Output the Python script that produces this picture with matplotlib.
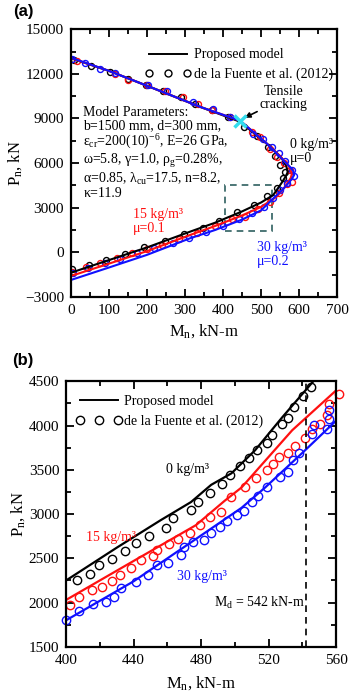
import matplotlib
matplotlib.use('Agg')
import matplotlib.pyplot as plt
from matplotlib.patches import Rectangle

plt.rcParams['font.family'] = ['Liberation Serif', 'DejaVu Serif']
plt.rcParams['mathtext.fontset'] = 'custom'
plt.rcParams['mathtext.rm'] = 'Liberation Serif'
plt.rcParams['mathtext.it'] = 'Liberation Serif:italic'
plt.rcParams['mathtext.bf'] = 'Liberation Serif:bold'

RED = '#ff1010'
BLUE = '#1010ff'

# ---- panel (a): full interaction diagram ----
a_black_line_m = [0, 100, 200, 313, 379, 450, 500, 532, 555, 566, 570, 566, 552, 515, 445, 340, 208, 100, 0]
a_black_line_p = [-1370, -520, 330, 1386, 1990, 2750, 3350, 3851, 4700, 5150, 5400, 5850, 6420, 7300, 8780, 9780, 11120, 12200, 13050]
a_red_line_m = [0, 100, 200, 313, 379, 450, 500, 541, 566, 578, 581, 576, 552, 515, 445, 340, 208, 100, 0]
a_red_line_p = [-1590, -760, 80, 1164, 1769, 2480, 3050, 3736, 4500, 5000, 5250, 5700, 6420, 7320, 8850, 9780, 11120, 12200, 13060]
a_blue_line_m = [0, 100, 200, 313, 379, 450, 500, 528, 560, 580, 587, 585, 576, 550, 515, 445, 340, 208, 100, 0]
a_blue_line_p = [-1858, -1020, -170, 942, 1500, 2200, 2820, 3515, 4300, 4900, 5194, 5450, 5750, 6420, 7320, 8850, 9780, 11120, 12200, 13080]

a_black_pts_m = [2, 46, 92, 142, 192, 247, 298, 348, 390, 436, 482, 515, 541, 559, 562,
                 550, 537, 517, 489, 454, 414, 372, 326, 290, 243, 197, 151, 103, 52, 8]
a_black_pts_p = [-1119, -851, -515, -132, 338, 781, 1211, 1654, 2124, 2689, 3159, 3784, 4301, 4972, 5400,
                 5870, 6470, 7095, 7810, 8400, 9110, 9560, 9963, 10453, 10856, 11285, 11688, 12133, 12535, 12965]
a_red_pts_m = [2, 40, 76, 120, 161, 199, 239, 284, 331, 379, 423, 458, 493, 524, 548, 568, 581,
               576, 560, 543, 524, 497, 475, 417, 370, 335, 294, 247, 199, 151, 116, 15]
a_red_pts_p = [-1300, -965, -696, -361, -65, 224, 493, 875, 1319, 1789, 2219, 2398, 2890, 3400, 3965, 4589, 4744,
               5530, 5980, 6423, 6920, 7726, 8102, 9110, 9560, 9963, 10412, 10856, 11239, 11621, 11977, 12871]
a_blue_pts_m = [6, 44, 90, 129, 173, 217, 267, 310, 354, 401, 443, 476, 508, 532, 550, 568, 587,
                581, 563, 548, 528, 504, 480, 418, 374, 322, 252, 202, 116, 76, 37, 2]
a_blue_pts_p = [-1368, -1072, -737, -448, -65, 271, 607, 983, 1346, 1769, 2219, 2662, 3024, 3629, 4187, 4636, 5128,
                5530, 6135, 6651, 7095, 7588, 7990, 9110, 9627, 10117, 10856, 11285, 12065, 12360, 12737, 13032]

crack_m, crack_p = 445, 8850

# ---- panel (b): zoom on the tension-controlled region ----
b_black_line_m = [400, 430, 456, 474, 486, 498, 512, 528, 547, 552]
b_black_line_p = [2250, 2620, 2930, 3135, 3330, 3460, 3720, 4090, 4510, 4620]
b_red_line_m = [400, 440, 477, 494, 504, 534, 562]
b_red_line_p = [2030, 2470, 2875, 3150, 3300, 3946, 4430]
b_blue_line_m = [400, 440, 474, 504, 518, 540, 562]
b_blue_line_p = [1800, 2240, 2680, 3070, 3300, 3690, 4090]

b_black_pts_m = [406.4, 413.9, 419.7, 427.3, 434.6, 441.6, 449.1, 459.1, 463.4, 474.0, 478, 485.4, 492.5,
                 496.9, 503, 508.5, 513.4, 518.8, 522.2, 527.8, 531.8, 535.3, 540.7, 545.3]
b_black_pts_p = [2255, 2323, 2424, 2495, 2586, 2676, 2751, 2838, 2951, 3045, 3138, 3240, 3338,
                 3439, 3541, 3631, 3729, 3803, 3890, 4014, 4090, 4210, 4330, 4435]
b_red_pts_m = [402.4, 407.8, 415.3, 421.3, 426.9, 432.2, 438.2, 444.2, 451.2, 454.1, 461.1, 466.1, 473.4,
               479.4, 485, 491.9, 497.9, 505.9, 512.8, 518.8, 522.8, 526.2, 531.8, 535.7, 541.7, 545.7,
               550.6, 554.6, 555.6, 561.6]
b_red_pts_p = [1973, 2060, 2142, 2173, 2244, 2312, 2394, 2481, 2526, 2594, 2661, 2714, 2782,
               2875, 2962, 3025, 3195, 3307, 3402, 3495, 3560, 3639, 3684, 3766, 3860, 3965,
               4022, 4115, 4247, 4360]
b_blue_pts_m = [400, 407.8, 415.7, 423.9, 428.2, 432.6, 441.2, 448.8, 454.1, 460.1, 468.1, 470, 475,
                482, 485.6, 491, 495.5, 501.3, 505.5, 509.9, 513.9, 518.8, 526.7, 531.8, 534.7, 538.1,
                545.7, 546.7, 554.6, 555.6, 555.6]
b_blue_pts_p = [1804, 1909, 1985, 2011, 2067, 2169, 2236, 2311, 2424, 2450, 2537, 2624, 2687,
                2706, 2789, 2856, 2924, 2988, 3033, 3138, 3202, 3307, 3420, 3476, 3608, 3684,
                3909, 4003, 3965, 4078, 4172]

m_d = 542

fig = plt.figure(figsize=(3.5, 6.97), dpi=100)
ax1 = fig.add_axes([0.203, 0.574, 0.760, 0.384])
ax2 = fig.add_axes([0.189, 0.072, 0.771, 0.381])


def style_axes(ax):
    for s in ax.spines.values():
        s.set_linewidth(1.6)
    ax.tick_params(which='both', direction='in', top=True, right=True, labelsize=11, width=1.3)
    ax.tick_params(which='major', length=6, pad=5)
    ax.tick_params(which='minor', length=3.5)


# panel (a)
mk_a = dict(marker='o', ls='none', mfc='none', ms=4.3, mew=1.0)
ax1.plot(a_black_pts_m, a_black_pts_p, mec='black', **mk_a)
ax1.plot(a_red_pts_m, a_red_pts_p, mec=RED, **mk_a)
ax1.plot(a_blue_pts_m, a_blue_pts_p, mec=BLUE, **mk_a)
ax1.plot(a_black_line_m, a_black_line_p, color='black', lw=1.5)
ax1.plot(a_red_line_m, a_red_line_p, color=RED, lw=1.5)
ax1.plot(a_blue_line_m, a_blue_line_p, color=BLUE, lw=1.5)
ax1.plot([crack_m], [crack_p], marker='x', color='#33ddee', ms=8, mew=2.5, zorder=5)
ax1.add_patch(Rectangle((405, 1450), 125, 3050, fill=False, ls=(0, (4, 3)), lw=1.2,
                        ec='#2f6060', zorder=1))

ax1.set_xlim(0, 700)
ax1.set_ylim(-3000, 15000)
ax1.set_xticks(range(0, 701, 100))
ax1.set_xticks(range(0, 701, 50), minor=True)
ax1.set_yticks(range(-3000, 15001, 3000))
ax1.set_yticks(range(-3000, 15001, 1500), minor=True)
style_axes(ax1)
ax1.set_xlabel('M$_\\mathrm{n}$, kN-m', fontsize=12, labelpad=4)
ax1.set_ylabel('P$_\\mathrm{n}$, kN', fontsize=12, labelpad=1)

ax1.plot([], [], color='black', lw=1.4, label='Proposed model')
ax1.plot([], [], marker='o', ls='none', mfc='none', mec='black', ms=5, mew=1.0,
         label='de la Fuente et al. (2012)')
h, l = ax1.get_legend_handles_labels()
ax1.legend(h[-2:], l[-2:], loc='upper right', bbox_to_anchor=(1.02, 0.965), frameon=False,
           fontsize=10, handlelength=3.3, numpoints=3, handletextpad=0.2, borderpad=0.2,
           labelspacing=0.45)

ax1.text(32, 9850, 'Model Parameters:\nb=1500 mm, d=300 mm,\n'
         'ε$_\\mathrm{cr}$=200(10)$^{-6}$, E=26 GPa,\n'
         'ω=5.8, γ=1.0, ρ$_\\mathrm{g}$=0.28%,\n'
         'α=0.85, λ$_\\mathrm{cu}$=17.5, n=8.2,\nκ=11.9',
         fontsize=10, va='top', ha='left', linespacing=1.05)
ax1.annotate('Tensile\ncracking', xy=(crack_m + 12, crack_p + 200), xytext=(560, 10350),
             fontsize=10, ha='center', va='center', linespacing=1.0,
             arrowprops=dict(arrowstyle='-|>', color='black', lw=1.2, mutation_scale=8,
                             shrinkA=0, shrinkB=0))
ax1.text(575, 6800, '0 kg/m³\nμ=0', fontsize=10, ha='left', va='center', linespacing=1.1)
ax1.text(163, 2040, '15 kg/m³\nμ=0.1', fontsize=10, ha='left', va='center', color=RED,
         linespacing=1.1)
ax1.text(489, -180, '30 kg/m³\nμ=0.2', fontsize=10, ha='left', va='center', color=BLUE,
         linespacing=1.1)

# panel (b)
mk_b = dict(marker='o', ls='none', mfc='none', ms=6.0, mew=1.0)
ax2.plot(b_black_pts_m, b_black_pts_p, mec='black', clip_on=False, **mk_b)
ax2.plot(b_red_pts_m, b_red_pts_p, mec=RED, clip_on=False, **mk_b)
ax2.plot(b_blue_pts_m, b_blue_pts_p, mec=BLUE, clip_on=False, **mk_b)
ax2.plot(b_black_line_m, b_black_line_p, color='black', lw=1.6)
ax2.plot(b_red_line_m, b_red_line_p, color=RED, lw=1.6)
ax2.plot(b_blue_line_m, b_blue_line_p, color=BLUE, lw=1.6)
ax2.axvline(m_d, color='black', ls=(0, (4, 3)), lw=1.2)

ax2.set_xlim(400, 560)
ax2.set_ylim(1500, 4500)
ax2.set_xticks(range(400, 561, 40))
ax2.set_xticks(range(400, 561, 20), minor=True)
ax2.set_yticks(range(1500, 4501, 500))
ax2.set_yticks(range(1500, 4501, 250), minor=True)
style_axes(ax2)
ax2.set_xlabel('M$_\\mathrm{n}$, kN-m', fontsize=12, labelpad=5)
ax2.set_ylabel('P$_\\mathrm{n}$, kN', fontsize=12, labelpad=1)

ax2.plot([], [], color='black', lw=1.4, label='Proposed model')
ax2.plot([], [], marker='o', ls='none', mfc='none', mec='black', ms=6, mew=1.0,
         label='de la Fuente et al. (2012)')
ax2.legend(loc='upper left', bbox_to_anchor=(0.0, 0.985), frameon=False, fontsize=10,
           handlelength=3.3, numpoints=3, handletextpad=0.2, borderpad=0.2, labelspacing=0.45)

ax2.text(459, 3500, '0 kg/m³', fontsize=10, ha='left', va='center')
ax2.text(412, 2730, '15 kg/m³', fontsize=10, ha='left', va='center', color=RED)
ax2.text(466, 2300, '30 kg/m³', fontsize=10, ha='left', va='center', color=BLUE)
ax2.text(m_d - 0.5, 2000, 'M$_\\mathrm{d}$ = 542 kN-m', fontsize=10, ha='right', va='center')

fig.text(0.037, 0.983, '(a)', fontsize=12, fontweight='bold', family='Liberation Sans',
         ha='left', va='center')
fig.text(0.034, 0.483, '(b)', fontsize=12, fontweight='bold', family='Liberation Sans',
         ha='left', va='center')

fig.savefig('out.png', dpi=100)
